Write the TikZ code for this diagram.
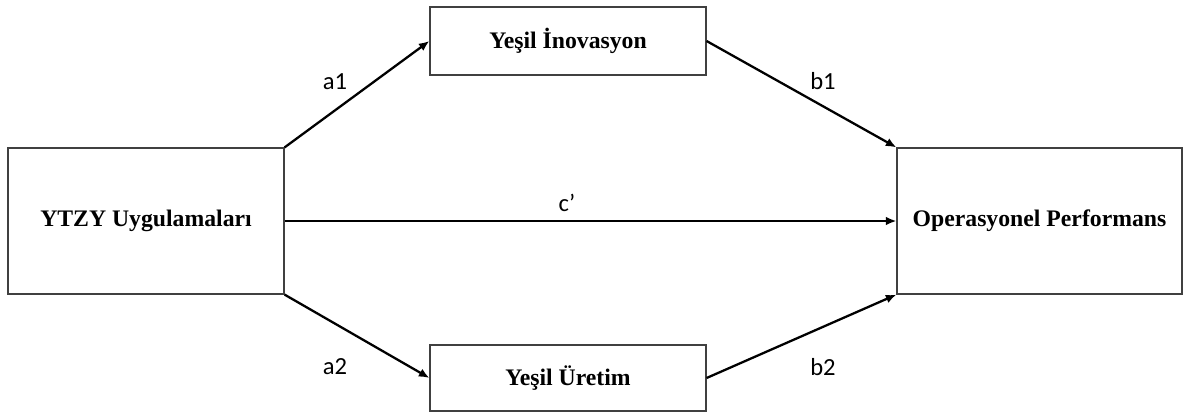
\documentclass[tikz,border=0pt]{standalone}
\usepackage{fontspec}
\setmainfont{Liberation Serif}
\newfontfamily\lblfont{Carlito}
\usetikzlibrary{arrows.meta, positioning, calc}

\begin{document}
\begin{tikzpicture}[x=0.02cm, y=-0.02cm,
  var/.style={draw=black!75, line width=0.7pt, font=\bfseries\fontsize{13.5}{15}\selectfont, inner sep=0pt},
  path/.style={line width=1.3pt, -{Latex[length=6pt,width=5pt]}},
  coef/.style={font=\lblfont\fontsize{14}{16}\selectfont}]
\useasboundingbox (0,0) rectangle (1187,416);
% Variables
\node[var, minimum width=5.52cm, minimum height=2.92cm] (ytzy) at (146,221) {YTZY Uygulamaları};
\node[var, minimum width=5.7cm, minimum height=2.92cm] (perf) at (1039.5,221) {Operasyonel Performans};
\node[var, minimum width=5.52cm, minimum height=1.36cm] (inov) at (568,41) {Yeşil İnovasyon};
\node[var, minimum width=5.52cm, minimum height=1.32cm] (uret) at (568,378) {Yeşil Üretim};
% Paths
\draw[path] (ytzy.north east) -- (inov.west);
\draw[path] (inov.east) -- (perf.north west);
\draw[path] (ytzy.south east) -- (uret.west);
\draw[path] (uret.east) -- (perf.south west);
\draw[path] (ytzy.east) -- (perf.west);
% Coefficients
\node[coef] (a1) at (335,82) {a1};
\node[coef] (b1) at (823,81) {b1};
\node[coef] (a2) at (335,367) {a2};
\node[coef] (b2) at (823,367) {b2};
\node[coef] (c) at (567,203) {c’};
\end{tikzpicture}
\end{document}
